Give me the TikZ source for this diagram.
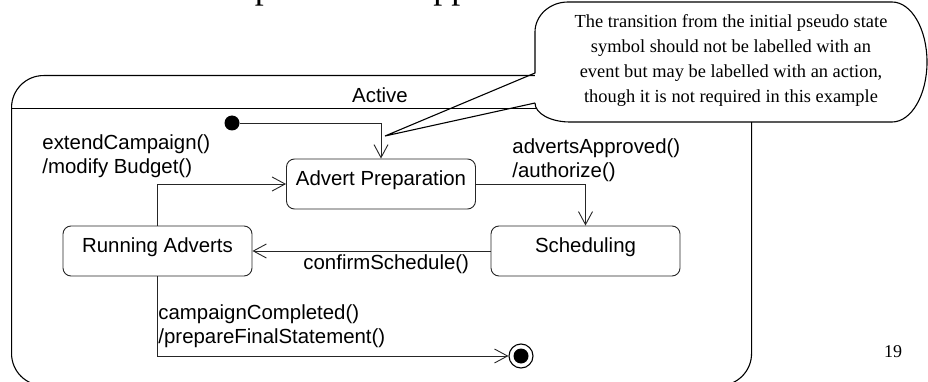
\documentclass[tikz,border=0pt]{standalone}
\usepackage{fontspec}
\setmainfont{Liberation Sans}
\newfontfamily\notefont{Liberation Serif}
\usetikzlibrary{arrows.meta}
\begin{document}
\begin{tikzpicture}[x=1pt,y=-1pt,line width=0.9pt,
  lbl/.style={font=\fontsize{20.4}{24}\selectfont, inner sep=0pt, align=left},
  statebox/.style={draw=black!85, rounded corners=8pt, minimum width=189pt,
    minimum height=50pt, inner sep=0pt, font=\fontsize{20.4}{24}\selectfont,
    text height=14pt, text depth=11.4pt},
  trans/.style={draw=black!85, -{Straight Barb[length=13pt,width=14pt,line width=0.9pt]}},
  initial/.style={circle, fill=black, minimum size=15pt, inner sep=0pt},
  final/.style={circle, draw=black, line width=1.1pt, minimum size=24pt, inner sep=0pt,
    path picture={\fill[black] (path picture bounding box.center) circle (7.5pt);}},
  note/.style={font=\notefont\fontsize{18.4}{25}\selectfont, align=center, inner sep=0pt}
]
\useasboundingbox (0,0) rectangle (928,382);

% slide title, cut by the top edge
\node[font=\notefont\fontsize{36}{40}\selectfont, anchor=base west, inner sep=0pt] (titleA) at (254.5,-1.5) {p};
\node[font=\notefont\fontsize{36}{40}\selectfont, anchor=base west, inner sep=0pt] (titleB) at (433,-1.5) {pp};

% composite state Active
\node[draw=black, line width=1.1pt, rounded corners=32pt, minimum width=740pt,
  minimum height=310pt, anchor=north west, inner sep=0pt] (active) at (11,75) {};
\draw[line width=0.9pt] (11,108) -- (751,108);
\node[lbl, anchor=base] (activelbl) at (380,102.3) {Active};

% substates
\node[statebox] (ap) at (381,184) {Advert Preparation};
\node[statebox] (ra) at (157.5,251) {Running Adverts};
\node[statebox] (sched) at (585.5,251) {Scheduling};

% pseudo states
\node[initial] (init) at (232,123) {};
\node[final] (fin) at (521,356) {};

% transitions
\draw[trans] (init) -| (ap);
\draw[trans] (ap) -| (sched);
\draw[trans] (sched) -- (ra);
\draw[trans] (ra) |- (ap);
\draw[trans] (ra) |- (fin);

% transition labels
\node[lbl, anchor=north west] (lblExtend) at (42,134.4) {extendCampaign()\\/modify Budget()};
\node[lbl, anchor=north west] (lblApproved) at (512,138.4) {advertsApproved()\\/authorize()};
\node[lbl, anchor=base west] (lblConfirm) at (303,269.3) {confirmSchedule()};
\node[lbl, anchor=north west] (lblCompleted) at (158,304.4) {campaignCompleted()\\/prepareFinalStatement()};

% note callout pointing at the initial transition
\coordinate (tip) at (385,136);
\fill[white] (535,73) -- (535,32) .. controls (535,15.4) and (549.8,2) .. (568,2)
  -- (892,2) .. controls (911.3,2) and (927,28.9) .. (927,62)
  .. controls (927,95.1) and (911.3,122) .. (892,122)
  -- (570,122) .. controls (550.7,122) and (535,113.5) .. (535,103) -- cycle;
\draw[line width=1.1pt, line join=miter] (535,103) -- (tip) -- (535,73) -- (535,32)
  .. controls (535,15.4) and (549.8,2) .. (568,2)
  -- (892,2) .. controls (911.3,2) and (927,28.9) .. (927,62)
  .. controls (927,95.1) and (911.3,122) .. (892,122)
  -- (570,122) .. controls (550.7,122) and (535,113.5) .. (535,103);
\node[note] (notetext) at (731,61) {The transition from the initial pseudo state\\
  symbol should not be labelled with an\\
  event but may be labelled with an action,\\
  though it is not required in this example};

% page number
\node[font=\notefont\fontsize{18}{20}\selectfont, inner sep=0pt] (pagenum) at (893,352) {19};
\end{tikzpicture}
\end{document}
